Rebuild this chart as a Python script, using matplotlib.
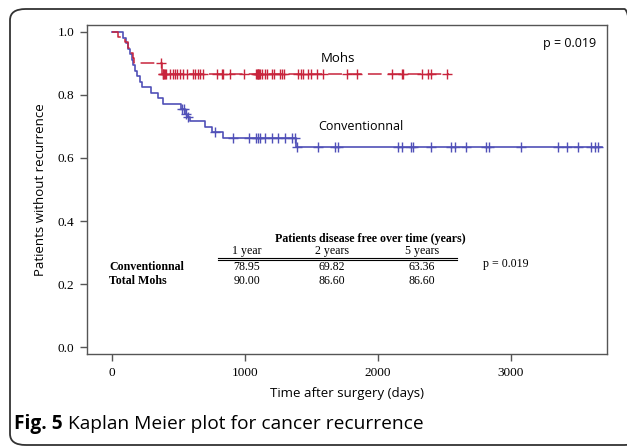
import numpy as np
import matplotlib.pyplot as plt
from matplotlib.patches import FancyBboxPatch

# Kaplan-Meier steps (time in days, survival fraction)
conv_times = [0, 80, 105, 118, 135, 148, 155, 173, 190, 211, 223, 293, 348, 381,
              520, 548, 565, 586, 699, 750, 832, 1380]
conv_surv = [1.0, 0.982, 0.965, 0.947, 0.930, 0.912, 0.895, 0.877, 0.860, 0.842,
             0.825, 0.807, 0.789, 0.772, 0.756, 0.740, 0.730, 0.718, 0.698, 0.684,
             0.662, 0.634]
conv_end = 3682
conv_censor = [524, 541, 556, 568, 774, 912, 1030, 1083, 1100, 1113, 1150, 1200, 1250,
               1301, 1351, 1376, 1388, 1546, 1677, 1702, 2153, 2178, 2248, 2265,
               2398, 2549, 2579, 2659, 2812, 2837, 3075, 3356, 3419, 3506, 3599,
               3632, 3657]

mohs_times = [0, 48, 98, 118, 135, 160, 168, 373]
mohs_surv = [1.0, 0.983, 0.967, 0.950, 0.933, 0.917, 0.900, 0.866]
mohs_end = 2534
mohs_censor = [368, 381, 386, 392, 398, 406, 436, 456, 474, 491, 511, 536, 561, 612,
               624, 649, 662, 682, 787, 824, 837, 887, 990, 1083, 1090, 1096, 1100,
               1106, 1113, 1130, 1150, 1168, 1201, 1218, 1263, 1276, 1293, 1401,
               1419, 1439, 1476, 1494, 1539, 1584, 1765, 1840, 2107, 2178, 2190,
               2329, 2378, 2396, 2516]

# summary table
table_title = "Patients disease free over time (years)"
table_cols = ["1 year", "2 years", "5 years"]
table_rows = ["Conventionnal", "Total Mohs"]
table_vals = [["78.95", "69.82", "63.36"],
              ["90.00", "86.60", "86.60"]]
p_text = "p = 0.019"

blue = "#5050b8"
red = "#c8243c"
W, H = 627, 447


def fx(px):
    return px / W


def fy(py):
    return 1 - py / H


def surv_at(times, surv, t):
    idx = np.searchsorted(times, t, side="right") - 1
    return np.asarray(surv)[idx]


fig = plt.figure(figsize=(W / 100, H / 100), dpi=100)

# rounded frame around figure + caption (right side runs off the edge)
frame = FancyBboxPatch((fx(10), fy(445)), fx(640) - fx(10), fy(9) - fy(445),
                       boxstyle="round,pad=0,rounding_size=0.025",
                       transform=fig.transFigure, fill=False,
                       edgecolor="#333333", linewidth=1.3)
fig.patches.append(frame)

ax = fig.add_axes([fx(87), fy(354), fx(607) - fx(87), fy(25) - fy(354)])

# conventional curve
ct = list(conv_times) + [conv_end]
cs = list(conv_surv) + [conv_surv[-1]]
ax.step(ct, cs, where="post", color=blue, lw=1.2)
ax.plot(conv_censor, surv_at(conv_times, conv_surv, conv_censor), ls="none",
        marker="+", ms=6.5, mew=1.0, color=blue)

# mohs curve
mt = list(mohs_times) + [mohs_end]
ms = list(mohs_surv) + [mohs_surv[-1]]
ax.step(mt, ms, where="post", color=red, lw=1.1, dashes=(9, 4))
ax.plot(mohs_censor, surv_at(mohs_times, mohs_surv, mohs_censor), ls="none",
        marker="+", ms=6.5, mew=1.0, color=red)

ax.set_xlim(-188, 3722)
ax.set_ylim(-0.022, 1.022)
ax.set_xticks([0, 1000, 2000, 3000])
ax.set_yticks([0.0, 0.2, 0.4, 0.6, 0.8, 1.0])
ax.set_yticklabels([f"{v:.1f}" for v in ax.get_yticks()])
for s in ax.spines.values():
    s.set_color("#555555")
    s.set_linewidth(1.0)
ax.tick_params(direction="out", length=5, width=1, color="#555555",
               labelsize=9.5, pad=4)
for lab in ax.get_xticklabels() + ax.get_yticklabels():
    lab.set_family("Liberation Serif")

ax.set_xlabel("Time after surgery (days)", family="Open Sans", fontsize=9.5,
              labelpad=6)
ax.set_ylabel("Patients without recurrence", family="Open Sans", fontsize=9.5,
              labelpad=8)

# curve labels and p value
fig.text(fx(338), fy(58), "Mohs", family="Open Sans", fontsize=9.5,
         ha="center", va="center")
fig.text(fx(361), fy(126), "Conventionnal", family="Open Sans", fontsize=9,
         ha="center", va="center")
fig.text(fx(596), fy(43), p_text, family="Open Sans", fontsize=9,
         ha="right", va="center")

# table
serif = "Liberation Serif"
fs = 8.6
fig.text(fx(370), fy(239), table_title, family=serif, fontsize=fs,
         weight="bold", ha="center", va="center")
col_x = [247, 332, 422]
for x, c in zip(col_x, table_cols):
    fig.text(fx(x), fy(251), c, family=serif, fontsize=fs, ha="center", va="center")
fig.add_artist(plt.Line2D([fx(218), fx(457)], [fy(257.5), fy(257.5)],
                          color="black", lw=0.8))
fig.add_artist(plt.Line2D([fx(218), fx(457)], [fy(260), fy(260)],
                          color="black", lw=0.8))
row_y = [267, 281]
for y, name, vals in zip(row_y, table_rows, table_vals):
    fig.text(fx(109), fy(y), name, family=serif, fontsize=fs, weight="bold",
             ha="left", va="center")
    for x, v in zip(col_x, vals):
        fig.text(fx(x), fy(y), v, family=serif, fontsize=fs, ha="center", va="center")
fig.text(fx(483), fy(264), p_text, family=serif, fontsize=fs, ha="left", va="center")

# caption
cap1 = fig.text(fx(14), fy(424), "Fig. 5", family="Open Sans", weight="bold",
                fontsize=13.8, ha="left", va="center")
fig.canvas.draw()
bb = cap1.get_window_extent()
fig.text(bb.x1 / W + 0.008, fy(424), "Kaplan Meier plot for cancer recurrence",
         family="Open Sans", fontsize=13.8, ha="left", va="center")

fig.savefig("out.png", dpi=100)
